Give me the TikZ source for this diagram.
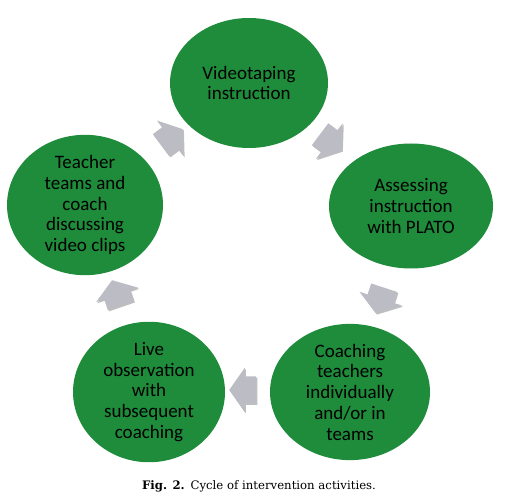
\documentclass[tikz,border=0pt]{standalone}
\usepackage{fontspec}
\setmainfont{Carlito}
\newfontfamily\capfont{DejaVu Serif}
\usetikzlibrary{shapes.geometric,shapes.arrows,shadows,calc}
\definecolor{cyclegreen}{RGB}{30,140,58}
\definecolor{arrowgray}{RGB}{188,188,196}
\begin{document}
\begin{tikzpicture}[x=1pt,y=-1pt,
  stage/.style={ellipse, fill=cyclegreen, draw=none, align=center, inner sep=0pt,
    font=\fontsize{19}{20.75}\selectfont, text=black},
  cyclearrow/.style={single arrow, fill=arrowgray, draw=none, minimum height=27pt,
    single arrow head extend=8.5pt, single arrow tip angle=110,
    inner xsep=0pt, inner ysep=13.5pt,
    drop shadow={shadow xshift=1.2pt, shadow yshift=-1.2pt, opacity=0.25, fill=black}}]
\useasboundingbox (0,0) rectangle (516,502);
\node[stage, minimum width=158pt, minimum height=130pt] (top) at (249,83) {Videotaping\\instruction};
\node[stage, minimum width=164pt, minimum height=125pt] (right) at (411,206) {Assessing\\instruction\\with PLATO};
\node[stage, minimum width=160pt, minimum height=130pt] (br) at (350,392) {Coaching\\teachers\\individually\\and/or in\\teams};
\node[stage, minimum width=152pt, minimum height=130pt] (bl) at (149,392) {Live\\observation\\with\\subsequent\\coaching};
\node[stage, minimum width=156pt, minimum height=124pt] (left) at (85,205) {Teacher\\teams and\\coach\\discussing\\video clips};
\node[cyclearrow, rotate=36.6] (a1) at ($(left)!0.5!(top)+(1,-4)$) {};
\node[cyclearrow, rotate=-37] (a2) at ($(top)!0.5!(right)+(-3,-5)$) {};
\node[cyclearrow, rotate=-108] (a3) at ($(right)!0.5!(br)+(1,-3)$) {};
\node[cyclearrow, rotate=180] (a4) at ($(br)!0.5!(bl)+(-2,-2)$) {};
\node[cyclearrow, rotate=109] (a5) at ($(bl)!0.5!(left)+(1,-1)$) {};
\node[font=\capfont\fontsize{11.7}{14}\selectfont] (cap) at (259,486) {\textbf{Fig. 2.}\hspace{0.5em}Cycle of intervention activities.};
\end{tikzpicture}
\end{document}
